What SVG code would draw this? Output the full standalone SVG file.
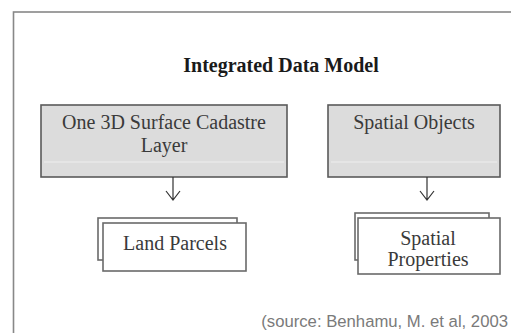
<svg xmlns="http://www.w3.org/2000/svg" width="511" height="333" viewBox="0 0 511 333">
<style>
.serif{font-family:"Liberation Serif","Times New Roman",serif;}
.title{font-size:20px;font-weight:bold;fill:#1a1a1a;}
.lbl{font-size:20px;fill:#3a3a3a;}
.src{font-family:"Liberation Sans",Arial,sans-serif;font-size:16.7px;fill:#7a7a7a;}
.gbox{fill:#dcdcdc;stroke:#5a5a5a;stroke-width:1.6;}
.wbox{fill:#ffffff;stroke:#6a6a6a;stroke-width:1.6;}
.conn{stroke:#333;stroke-width:1.2;fill:none;}
</style>
<rect width="511" height="333" fill="#fff"/>
<rect x="13.5" y="12" width="520" height="340" fill="none" stroke="#888" stroke-width="1.6"/>
<text class="serif title" x="281" y="72" text-anchor="middle">Integrated Data Model</text>
<g id="cadastre">
<rect class="gbox" x="41" y="105" width="246" height="72"/>
<line x1="44" y1="162" x2="284" y2="162" stroke="#eee" stroke-width="1"/>
<text class="serif lbl" x="164" y="129" text-anchor="middle">One 3D Surface Cadastre</text>
<text class="serif lbl" x="164" y="152" text-anchor="middle">Layer</text>
</g>
<g id="spatialobjects">
<rect class="gbox" x="328" y="105" width="172" height="72"/>
<line x1="331" y1="162" x2="497" y2="162" stroke="#eee" stroke-width="1"/>
<text class="serif lbl" x="414" y="129" text-anchor="middle">Spatial Objects</text>
</g>
<g id="landparcels">
<rect class="wbox" x="98" y="218" width="139" height="42"/>
<rect class="wbox" x="103" y="223" width="143" height="48"/>
<text class="serif lbl" x="175" y="250" text-anchor="middle">Land Parcels</text>
</g>
<g id="spatialproperties">
<rect class="wbox" x="355" y="213" width="134" height="47"/>
<rect class="wbox" x="358" y="218" width="142" height="56"/>
<text class="serif lbl" x="428" y="245" text-anchor="middle">Spatial</text>
<text class="serif lbl" x="428" y="266" text-anchor="middle">Properties</text>
</g>
<g id="connectors">
<path class="conn" d="M173 177 V200 M166 191 L173 200 L180 191"/>
<path class="conn" d="M427 177 V200 M420 191 L427 200 L434 191"/>
</g>
<text class="src" x="508" y="327" text-anchor="end">(source: Benhamu, M. et al, 2003</text>
</svg>
